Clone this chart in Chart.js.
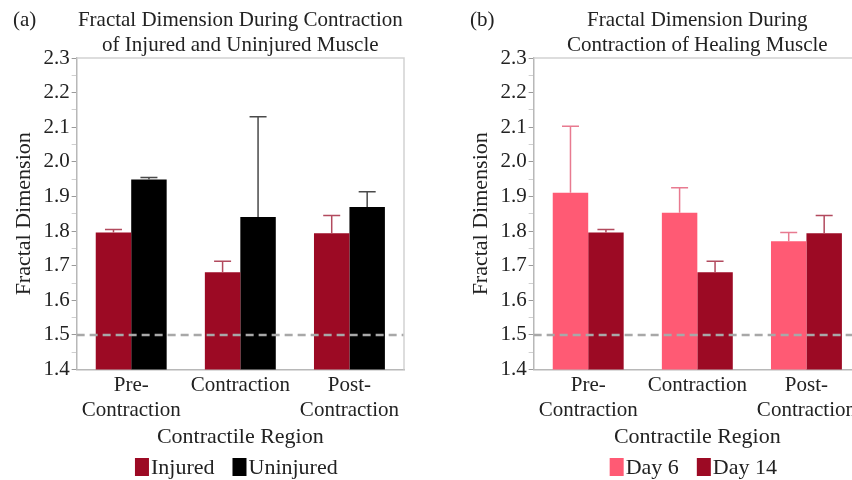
<!DOCTYPE html>
<html>
<head>
<meta charset="utf-8">
<script src="https://cdn.jsdelivr.net/npm/chart.js@4/dist/chart.umd.min.js"></script>
<style>
  html, body { margin: 0; padding: 0; background: #fff; }
  #wrap { position: relative; width: 852px; height: 480px; overflow: hidden; }
  canvas { position: absolute; top: 0; }
  #chartA { left: 0; }
  #chartB { left: 457px; }
</style>
</head>
<body>
<div id="wrap">
  <canvas id="chartA" width="425" height="480"></canvas>
  <canvas id="chartB" width="425" height="480"></canvas>
</div>
<script>
// Contractile regions along the x axis
const regions = [["Pre-", "Contraction"], "Contraction", ["Post-", "Contraction"]];

// Panel (a): injured vs uninjured muscle (mean and upper error)
const injuredMean = [1.796, 1.681, 1.794];
const injuredErr = [0.009, 0.032, 0.051];
const uninjuredMean = [1.949, 1.841, 1.870];
const uninjuredErr = [0.006, 0.289, 0.044];

// Panel (b): healing muscle at day 6 and day 14
const day6Mean = [1.911, 1.853, 1.771];
const day6Err = [0.192, 0.072, 0.025];
const day14Mean = [1.796, 1.681, 1.794];
const day14Err = [0.009, 0.032, 0.051];

// Axis range and the dashed reference level
const yMin = 1.4;
const yMax = 2.3;
const yStep = 0.05;
const referenceLevel = 1.5;

const FONT = "'Liberation Serif', 'Times New Roman', serif";
const TEXT = '#222';

// Error bars, reference line, frame, titles and legend
const panelDeco = {
  id: 'panelDeco',
  afterDatasetsDraw(chart, args, opts) {
    const ctx = chart.ctx;
    const y = chart.scales.y;
    const a = chart.chartArea;
    chart.data.datasets.forEach((ds, di) => {
      const meta = chart.getDatasetMeta(di);
      meta.data.forEach((bar, i) => {
        const top = y.getPixelForValue(ds.data[i] + ds.errorPlus[i]);
        ctx.save();
        ctx.strokeStyle = ds.errorColor;
        ctx.lineWidth = 1.5;
        ctx.beginPath();
        ctx.moveTo(bar.x, bar.y);
        ctx.lineTo(bar.x, top);
        ctx.moveTo(bar.x - 8.5, top);
        ctx.lineTo(bar.x + 8.5, top);
        ctx.stroke();
        ctx.restore();
      });
    });
    const ry = y.getPixelForValue(opts.refLine);
    ctx.save();
    ctx.setLineDash([8, 5]);
    ctx.strokeStyle = '#a8a8a8';
    ctx.lineWidth = 2.5;
    ctx.beginPath();
    ctx.moveTo(a.left, ry);
    ctx.lineTo(a.right, ry);
    ctx.stroke();
    ctx.restore();
  },
  afterDraw(chart, args, opts) {
    const ctx = chart.ctx;
    const a = chart.chartArea;
    const cx = (a.left + a.right) / 2;
    ctx.save();
    // top and right frame edges
    ctx.strokeStyle = '#d2d2d2';
    ctx.lineWidth = 1.5;
    ctx.beginPath();
    ctx.moveTo(a.left, a.top);
    ctx.lineTo(a.right, a.top);
    ctx.lineTo(a.right, a.bottom);
    ctx.stroke();

    ctx.font = '21px ' + FONT;
    ctx.fillStyle = TEXT;
    ctx.textBaseline = 'middle';
    // panel tag
    ctx.textAlign = 'left';
    ctx.fillText(opts.tag, 13, 20);
    // two-line title
    ctx.textAlign = 'center';
    opts.titleLines.forEach((line, i) => ctx.fillText(line, cx, 20 + i * 25));

    // legend row
    ctx.font = '22px ' + FONT;
    const ds = chart.data.datasets;
    const boxW = 14, boxH = 18, gap = 2, itemGap = 18;
    const widths = ds.map(d => boxW + gap + ctx.measureText(d.label).width);
    const total = widths.reduce((s, w) => s + w, 0) + itemGap * (ds.length - 1);
    let x = cx - 4 - total / 2;
    const ly = 467;
    ctx.textAlign = 'left';
    ds.forEach((d, i) => {
      ctx.fillStyle = d.backgroundColor;
      ctx.fillRect(x, ly - boxH / 2, boxW, boxH);
      ctx.fillStyle = TEXT;
      ctx.fillText(d.label, x + boxW + gap, ly + 1);
      x += widths[i] + itemGap;
    });
    ctx.restore();
  }
};

function isMajor(v) {
  return Math.round(v * 100) % 10 === 0;
}

function makeChart(id, tag, titleLines, sets) {
  const tickFont = { family: FONT, size: 21, lineHeight: 1.2 };
  const yTitleFont = { family: FONT, size: 22, lineHeight: 1.2 };
  const xTitleFont = { family: FONT, size: 22, lineHeight: 1.0 };
  return new Chart(document.getElementById(id), {
    type: 'bar',
    data: {
      labels: regions,
      datasets: sets.map(s => ({
        label: s.label,
        data: s.values,
        errorPlus: s.err,
        backgroundColor: s.color,
        errorColor: s.errColor,
        borderWidth: 0,
        categoryPercentage: 0.65,
        barPercentage: 1.0
      }))
    },
    options: {
      responsive: false,
      animation: false,
      layout: { padding: { left: 7, right: 21, top: 58, bottom: 32 } },
      plugins: {
        legend: { display: false },
        tooltip: { enabled: false },
        panelDeco: { tag: tag, titleLines: titleLines, refLine: referenceLevel }
      },
      scales: {
        x: {
          grid: { display: false, drawTicks: false },
          border: { display: true, color: '#b8b8b8', width: 1.5 },
          ticks: { color: TEXT, font: tickFont, padding: 3, maxRotation: 0, autoSkip: false },
          title: {
            display: true, text: 'Contractile Region', color: TEXT,
            font: xTitleFont, padding: { top: 0, bottom: 0 }
          }
        },
        y: {
          min: yMin,
          max: yMax,
          grid: {
            drawOnChartArea: false,
            tickLength: 5,
            color: c => (c.tick && isMajor(c.tick.value)) ? '#9a9a9a' : '#cfcfcf'
          },
          border: { display: true, color: '#b8b8b8', width: 1.5 },
          ticks: {
            stepSize: yStep,
            autoSkip: false,
            color: TEXT,
            font: tickFont,
            padding: 2,
            callback: v => isMajor(v) ? v.toFixed(1) : ''
          },
          title: {
            display: true, text: 'Fractal Dimension', color: TEXT,
            font: yTitleFont, padding: { top: 4, bottom: 4 }
          }
        }
      }
    },
    plugins: [panelDeco]
  });
}

makeChart('chartA', '(a)',
  ['Fractal Dimension During Contraction', 'of Injured and Uninjured Muscle'],
  [
    { label: 'Injured', values: injuredMean, err: injuredErr, color: '#9c0a24', errColor: '#b24a5e' },
    { label: 'Uninjured', values: uninjuredMean, err: uninjuredErr, color: '#000000', errColor: '#4a4a4a' }
  ]);

makeChart('chartB', '(b)',
  ['Fractal Dimension During', 'Contraction of Healing Muscle'],
  [
    { label: 'Day 6', values: day6Mean, err: day6Err, color: '#ff5a74', errColor: '#e87a90' },
    { label: 'Day 14', values: day14Mean, err: day14Err, color: '#9c0a24', errColor: '#b24a5e' }
  ]);
</script>
</body>
</html>
